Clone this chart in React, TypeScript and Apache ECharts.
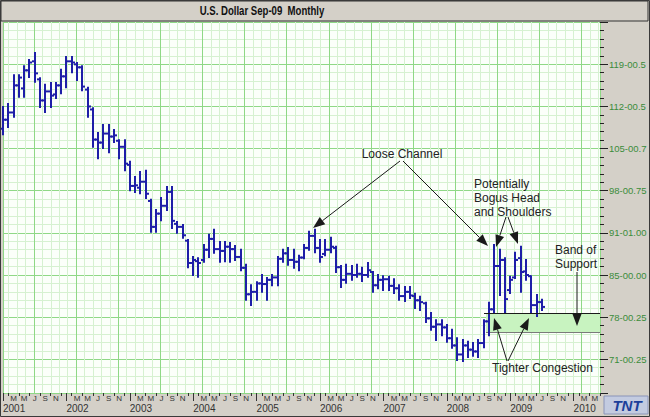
import React, { useEffect, useRef } from 'react';
import * as echarts from 'echarts';

// ---- Data (monthly OHLC, Jan 2001 .. Jul 2009) ----
const openVals = [
  108.3, 109.8, 111.0, 115.5, 115.0, 118.0, 119.5, 116.5, 113.0, 114.5, 114.0, 115.5,
  117.0, 119.5, 119.0, 118.5, 114.8, 111.5, 106.5, 106.0, 107.5, 107.0, 106.3, 105.3,
  102.3, 98.8, 98.5, 99.5, 96.3, 92.0, 94.2, 95.5, 97.8, 92.5, 92.0, 89.7,
  86.0, 86.3, 86.5, 88.2, 90.0, 88.3, 88.0, 88.7, 88.3, 87.0, 85.2, 80.8,
  81.2, 82.6, 82.5, 83.2, 83.6, 86.7, 87.6, 86.5, 86.2, 86.9, 88.5, 90.5,
  88.5, 87.5, 88.2, 88.5, 85.3, 83.2, 84.2, 84.0, 84.2, 84.0, 84.5, 82.3,
  83.2, 83.3, 82.2, 81.8, 80.5, 81.2, 80.5, 79.8, 79.3, 76.8, 75.4, 75.8,
  75.3, 73.5, 72.3, 70.8, 72.3, 71.6, 71.3, 72.7, 76.3, 78.3, 85.5, 86.5,
  81.5, 83.6, 86.8, 84.6, 83.8, 79.0, 79.5,
];
const highVals = [
  111.9, 112.4, 117.2, 117.2, 118.7, 119.7, 120.9, 116.7, 115.6, 115.9, 115.9, 118.1,
  120.2, 120.2, 119.2, 118.7, 115.1, 111.7, 107.6, 108.9, 108.9, 108.1, 106.4, 106.4,
  102.8, 100.3, 101.1, 101.3, 96.5, 94.8, 96.8, 98.6, 98.6, 92.8, 92.3, 89.8,
  87.0, 86.8, 89.0, 90.7, 91.5, 89.5, 89.5, 89.3, 88.8, 88.2, 85.7, 82.3,
  82.8, 84.0, 83.5, 84.0, 87.0, 88.2, 88.5, 88.2, 87.2, 89.0, 91.2, 91.5,
  89.8, 89.8, 90.2, 88.7, 85.5, 85.7, 85.5, 85.7, 85.2, 86.0, 84.5, 84.0,
  83.8, 83.7, 83.3, 82.3, 82.0, 82.0, 80.9, 80.4, 79.4, 77.7, 76.5, 76.5,
  75.7, 74.9, 73.5, 73.2, 72.9, 72.7, 73.2, 76.5, 79.4, 89.0, 88.2, 86.8,
  83.7, 87.7, 88.7, 86.5, 83.8, 80.7, 79.9,
];
const lowVals = [
  107.4, 108.6, 110.3, 113.6, 113.6, 116.9, 116.1, 111.9, 111.1, 111.9, 113.4, 114.2,
  115.2, 117.7, 116.4, 114.7, 110.3, 105.3, 103.4, 105.1, 104.4, 106.1, 103.4, 101.4,
  98.1, 97.8, 97.6, 96.8, 91.2, 91.2, 93.1, 94.8, 91.8, 91.0, 90.2, 85.3,
  84.0, 83.7, 86.2, 87.0, 87.7, 86.2, 86.3, 86.2, 86.5, 84.8, 79.9, 79.0,
  79.9, 81.2, 79.9, 82.3, 82.3, 86.2, 85.7, 85.2, 84.8, 86.8, 88.2, 87.8,
  86.2, 87.3, 87.8, 84.5, 82.0, 82.7, 83.2, 83.7, 83.0, 83.7, 81.2, 81.8,
  81.5, 81.5, 81.0, 79.9, 79.7, 80.2, 78.5, 78.2, 76.2, 74.9, 73.2, 74.0,
  72.9, 71.9, 69.9, 69.7, 70.4, 70.6, 70.4, 72.0, 74.0, 77.7, 80.7, 77.7,
  81.0, 83.5, 81.2, 83.2, 77.7, 77.2, 78.2,
];
const closeVals = [
  109.8, 111.0, 115.5, 116.8, 118.0, 119.3, 117.5, 113.0, 114.5, 113.8, 115.5, 117.0,
  119.5, 119.3, 118.5, 115.3, 112.0, 106.5, 106.0, 107.5, 107.0, 107.2, 105.3, 102.5,
  98.8, 98.9, 99.5, 97.5, 92.0, 94.2, 95.5, 97.8, 93.0, 92.0, 90.6, 86.0,
  86.5, 86.0, 88.2, 90.0, 88.3, 88.0, 88.7, 88.3, 87.0, 85.2, 80.8, 81.2,
  82.6, 82.5, 83.2, 83.6, 86.7, 87.6, 86.5, 86.2, 86.9, 88.5, 90.5, 88.5,
  87.0, 88.2, 88.7, 85.3, 83.2, 84.2, 84.0, 84.2, 84.0, 84.8, 82.3, 83.2,
  83.3, 82.2, 81.8, 80.5, 81.2, 80.6, 79.8, 79.5, 76.8, 75.4, 75.8, 75.3,
  73.5, 72.3, 70.8, 72.3, 71.6, 71.3, 72.7, 76.3, 78.3, 85.5, 86.5, 80.0,
  83.2, 86.5, 84.5, 84.0, 79.0, 79.5, 78.7,
];

// ---- Axis tick labels ----
const years = [2001, 2002, 2003, 2004, 2005, 2006, 2007, 2008, 2009, 2010];
const monthLetters = ['', '', 'M', '', 'M', '', 'J', '', 'S', '', 'N', ''];
const lastYearMonths = 6; // axis runs to Jun 2010
const yTickValues = [70, 77, 84, 91, 98, 105, 112, 119];
const yTickLabels = ['71-00.25', '78-00.25', '85-00.00', '91-01.00', '98-00.75', '105-00.7', '112-00.5', '119-00.5'];

const categories: string[] = [];
years.forEach((y, yi) => {
  const n = yi === years.length - 1 ? lastYearMonths : 12;
  for (let m = 0; m < n; m++) categories.push(`${y}-${m}`);
});

const FONT = "'Liberation Sans', Arial, sans-serif";
const MAJ = '#8fd886';
const MIN = '#d6f1d1';
const INK = '#1a1a1a';

function arrow(x1: number, y1: number, x2: number, y2: number) {
  const dx = x2 - x1, dy = y2 - y1;
  const len = Math.hypot(dx, dy);
  const ux = dx / len, uy = dy / len;
  const L = 12, W = 4.5;
  const bx = x2 - ux * L, by = y2 - uy * L;
  return [
    { type: 'line', z: 20, shape: { x1, y1, x2: bx, y2: by }, style: { stroke: INK, lineWidth: 1 } },
    {
      type: 'polygon', z: 20,
      shape: { points: [[x2, y2], [bx - uy * W, by + ux * W], [bx + uy * W, by - ux * W]] },
      style: { fill: INK },
    },
  ];
}

const App = () => {
  const ref = useRef<HTMLDivElement>(null);
  useEffect(() => {
    const chart = echarts.init(ref.current!, null, { renderer: 'svg' });
    const ohlc = openVals.map((o, i) => [i, o, highVals[i], lowVals[i], closeVals[i]]);

    const arrows = [
      [400, 161, 313, 228],
      [403, 161, 488, 246],
      [506, 217, 496, 247],
      [508, 217, 518, 244],
      [577, 272, 577, 326],
      [507, 361, 494, 318],
      [508, 361, 529, 318],
    ].flatMap((a) => arrow(a[0], a[1], a[2], a[3]));

    const textStyle = (extra: any) => ({ fill: '#222', font: `12px ${FONT}`, ...extra });

    chart.setOption({
      animation: false,
      backgroundColor: '#d4d0c8',
      grid: { left: 2, right: 50, top: 22, bottom: 24, show: true, backgroundColor: '#fbfffa', borderWidth: 0 },
      xAxis: [
        {
          type: 'category', data: categories, boundaryGap: false, position: 'bottom', z: 5,
          axisLine: { show: false, onZero: false },
          axisTick: { show: true, interval: (i: number) => i % 2 === 1, length: 3, lineStyle: { color: '#333' } },
          axisLabel: {
            interval: (i: number) => monthLetters[i % 12] !== '',
            formatter: (_v: string, i: number) => monthLetters[i % 12],
            fontSize: 8, lineHeight: 8, color: '#333', margin: 1, fontFamily: FONT,
          },
          splitLine: { show: false },
        },
        {
          type: 'category', data: categories, boundaryGap: false, position: 'bottom', z: 5,
          axisLine: { show: false, onZero: false },
          axisTick: { show: true, interval: (i: number) => i % 12 === 0, length: 8, lineStyle: { color: '#333' } },
          axisLabel: {
            interval: (i: number) => i % 12 === 0,
            formatter: (v: string) => v.slice(0, 4),
            align: 'left', fontSize: 10, lineHeight: 10, color: '#333', margin: 10, fontFamily: FONT,
          },
          splitLine: { show: false },
        },
        {
          type: 'value', min: 1.327, max: 72.18, minInterval: 5, maxInterval: 5, position: 'bottom',
          axisLine: { show: false, onZero: false }, axisTick: { show: false }, axisLabel: { show: false },
          splitLine: { show: true, lineStyle: { color: MAJ, width: 1 } },
          minorTick: { show: false, splitNumber: 5 },
          minorSplitLine: { show: true, lineStyle: { color: MIN, width: 1 } },
        },
      ],
      yAxis: [
        {
          type: 'value', position: 'right', min: 64.4, max: 126.03, minInterval: 7, maxInterval: 7,
          axisLine: { show: false },
          axisTick: { show: true, length: 8, lineStyle: { color: '#222' } },
          minorTick: { show: true, splitNumber: 5, length: 4, lineStyle: { color: '#222' } },
          axisLabel: {
            formatter: (v: number) => {
              const k = yTickValues.findIndex((t) => Math.abs(t - v) < 0.01);
              return k >= 0 ? yTickLabels[k] : '';
            },
            color: '#3a8c3a', fontSize: 9.5, margin: 9, fontFamily: FONT,
          },
          splitLine: { show: true, lineStyle: { color: MAJ, width: 1 } },
          minorSplitLine: { show: true, lineStyle: { color: MIN, width: 1 } },
        },
      ],
      series: [
        {
          type: 'custom', xAxisIndex: 0, yAxisIndex: 0, z: 3, clip: false,
          data: ohlc,
          encode: { x: 0, y: [1, 2, 3, 4] },
          renderItem: (_p: any, api: any) => {
            const i = api.value(0);
            const o = api.coord([i, api.value(1)]);
            const h = api.coord([i, api.value(2)]);
            const l = api.coord([i, api.value(3)]);
            const c = api.coord([i, api.value(4)]);
            const x = Math.round(h[0]);
            const st = { stroke: '#1e1ea8', lineWidth: 2 };
            return {
              type: 'group',
              children: [
                { type: 'line', shape: { x1: x, y1: h[1] - 1, x2: x, y2: l[1] + 1 }, style: st },
                { type: 'line', shape: { x1: x - 3, y1: o[1], x2: x, y2: o[1] }, style: st },
                { type: 'line', shape: { x1: x, y1: c[1], x2: x + 3, y2: c[1] }, style: st },
              ],
            };
          },
        },
      ],
      graphic: [
        // support band
        { type: 'rect', z: 1, shape: { x: 486, y: 313, width: 114, height: 20 }, style: { fill: '#c8f3c0' } },
        { type: 'line', z: 4, shape: { x1: 484, y1: 313.5, x2: 600, y2: 313.5 }, style: { stroke: INK, lineWidth: 1.2 } },
        { type: 'line', z: 1, shape: { x1: 486, y1: 332.5, x2: 600, y2: 332.5 }, style: { stroke: '#7a7a7a', lineWidth: 1 } },
        // title bar
        { type: 'rect', z: 30, shape: { x: 1, y: 1, width: 647, height: 20 }, style: { fill: '#d4d0c8', stroke: '#333', lineWidth: 1 } },
        {
          type: 'text', z: 31, x: 262, y: 11, scaleX: 0.8,
          style: { text: 'U.S. Dollar Sep-09  Monthly', fill: '#111', font: `bold 12px ${FONT}`, textAlign: 'center', textVerticalAlign: 'middle' },
        },
        // annotations
        { type: 'text', z: 21, x: 402, y: 154, style: textStyle({ text: 'Loose Channel', textAlign: 'center', textVerticalAlign: 'middle' }) },
        { type: 'text', z: 21, x: 474, y: 177, style: textStyle({ text: 'Potentially\nBogus Head\nand Shoulders', lineHeight: 14, textAlign: 'left', textVerticalAlign: 'top' }) },
        { type: 'text', z: 21, x: 555, y: 243, style: textStyle({ text: 'Band of\nSupport', lineHeight: 14, textAlign: 'left', textVerticalAlign: 'top' }) },
        { type: 'text', z: 21, x: 492, y: 362, style: textStyle({ text: 'Tighter Congestion', textAlign: 'left', textVerticalAlign: 'top' }) },
        ...arrows,
        // logo
        { type: 'rect', z: 30, shape: { x: 604, y: 396, width: 44, height: 18 }, style: { fill: '#c3cbe0', stroke: '#8a94b8', lineWidth: 1 } },
        {
          type: 'text', z: 31, x: 627, y: 405,
          style: { text: 'TNT', fill: '#1d3f9a', font: `italic bold 15px ${FONT}`, textAlign: 'center', textVerticalAlign: 'middle' },
        },
        // outer frame
        { type: 'rect', z: 40, shape: { x: 0.5, y: 0.5, width: 649, height: 416 }, style: { fill: 'none', stroke: '#3a3a3a', lineWidth: 1 } },
      ],
    });
    return () => chart.dispose();
  }, []);
  return <div ref={ref} style={{ width: 650, height: 417, position: 'absolute', left: 0, top: 0 }} />;
};

export default App;
